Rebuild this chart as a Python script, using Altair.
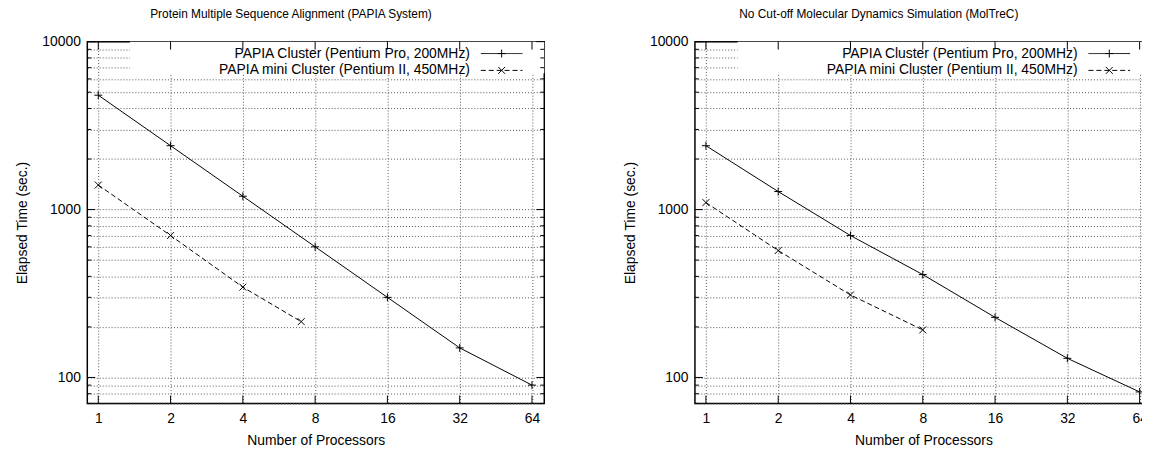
import altair as alt
import pandas as pd

# ---------------- data ----------------
procs = [1, 2, 4, 8, 16, 32, 64]
left_cluster = [4800, 2400, 1200, 600, 300, 150, 90]
left_mini_procs = [1, 2, 4, 7]
left_mini = [1400, 700, 345, 215]
right_cluster = [2400, 1280, 700, 410, 228, 130, 82]
right_mini_procs = [1, 2, 4, 8]
right_mini = [1100, 570, 310, 192]

titles = [
    "Protein Multiple Sequence Alignment (PAPIA System)",
    "No Cut-off Molecular Dynamics Simulation (MolTreC)",
]
series_names = [
    "PAPIA Cluster (Pentium Pro, 200MHz)",
    "PAPIA mini Cluster (Pentium II, 450MHz)",
]
x_title = "Number of Processors"
y_title = "Elapsed Time (sec.)"
x_ticks = [1, 2, 4, 8, 16, 32, 64]
y_major = [100, 1000, 10000]
y_minor = [70, 80, 90, 200, 300, 400, 500, 600, 700, 800, 900,
           2000, 3000, 4000, 5000, 6000, 7000, 8000, 9000]
x_domain = [0.9, 72]
y_domain = [70, 10000]

# ---------------- style ----------------
W, H = 461, 365
FONT = "Liberation Sans"
FS = 14
PLUS = "M-1,0L1,0M0,-1L0,1"
CROSS = "M-1,-1L1,1M-1,1L1,-1"
MAJ, MIN = 8, 4


def panel(title, title_dx, cl_x, cl_y, mn_x, mn_y):
    xs = alt.Scale(type="log", base=2, domain=x_domain, nice=False)
    ys = alt.Scale(type="log", domain=y_domain, nice=False)
    label_test = " || ".join(f"datum.value == {v}" for v in y_major)
    x_axis = alt.Axis(values=x_ticks, grid=True, ticks=False, tickSize=0,
                      domain=False, title=x_title, format="d", labelPadding=8,
                      titlePadding=8, labelOverlap=False, labelFlush=False)
    y_axis = alt.Axis(values=sorted(y_major + y_minor), grid=True, ticks=False,
                      tickSize=0, domain=False, title=y_title,
                      labelExpr=f"({label_test}) ? format(datum.value, 'd') : ''",
                      labelPadding=7, titlePadding=12, labelOverlap=False,
                      labelFlush=False)
    X = alt.X("n:Q", scale=xs, axis=x_axis)
    Y = alt.Y("t:Q", scale=ys, axis=y_axis)

    df_cl = pd.DataFrame({"n": cl_x, "t": cl_y})
    df_mn = pd.DataFrame({"n": mn_x, "t": mn_y})
    one = pd.DataFrame({"k": [0]})

    base_cl = alt.Chart(df_cl)
    base_mn = alt.Chart(df_mn)

    grid_layer = base_cl.mark_point(opacity=0).encode(x=X, y=Y)

    box = alt.Chart(one).mark_rect(color="white").encode(
        x=alt.value(43), x2=alt.value(W), y=alt.value(0), y2=alt.value(32))

    line_cl = base_cl.mark_line(color="black", strokeWidth=1).encode(x=X, y=Y)
    line_mn = base_mn.mark_line(color="black", strokeWidth=1,
                                strokeDash=[5, 3]).encode(x=X, y=Y)
    pt_cl = base_cl.mark_point(shape=PLUS, filled=False, size=64, color="black",
                               strokeWidth=1, opacity=1).encode(x=X, y=Y)
    pt_mn = base_mn.mark_point(shape=CROSS, filled=False, size=49, color="black",
                               strokeWidth=1, opacity=1).encode(x=X, y=Y)

    legend_layers = []
    rows = [12, 29]
    shapes = [PLUS, CROSS]
    dashes = [[1, 0], [5, 3]]
    for i, name in enumerate(series_names):
        d = pd.DataFrame({"label": [name]})
        legend_layers.append(alt.Chart(d).mark_text(
            align="right", baseline="middle", font=FONT, fontSize=FS,
            color="black").encode(text="label:N", x=alt.value(386),
                                  y=alt.value(rows[i])))
        legend_layers.append(alt.Chart(d).mark_rule(
            color="black", strokeWidth=1, strokeDash=dashes[i]).encode(
            x=alt.value(397), x2=alt.value(439), y=alt.value(rows[i])))
        legend_layers.append(alt.Chart(d).mark_point(
            shape=shapes[i], filled=False, size=64 if i == 0 else 49,
            color="black", strokeWidth=1, opacity=1).encode(
            x=alt.value(418), y=alt.value(rows[i])))

    dfx = pd.DataFrame({"n": x_ticks})
    dfy_maj = pd.DataFrame({"t": y_major})
    dfy_min = pd.DataFrame({"t": y_minor})
    tick_style = dict(color="black", strokeWidth=1)
    ticks = [
        alt.Chart(dfx).mark_rule(**tick_style).encode(
            x=X, y=alt.value(H), y2=alt.value(H - MAJ)),
        alt.Chart(dfx).mark_rule(**tick_style).encode(
            x=X, y=alt.value(0), y2=alt.value(MAJ)),
        alt.Chart(dfy_maj).mark_rule(**tick_style).encode(
            y=Y, x=alt.value(0), x2=alt.value(MAJ)),
        alt.Chart(dfy_maj).mark_rule(**tick_style).encode(
            y=Y, x=alt.value(W), x2=alt.value(W - MAJ)),
        alt.Chart(dfy_min).mark_rule(**tick_style).encode(
            y=Y, x=alt.value(0), x2=alt.value(MIN)),
        alt.Chart(dfy_min).mark_rule(**tick_style).encode(
            y=Y, x=alt.value(W), x2=alt.value(W - MIN)),
    ]

    return alt.layer(grid_layer, box, line_cl, line_mn, pt_cl, pt_mn,
                     *legend_layers, *ticks).properties(
        width=W, height=H,
        title=alt.TitleParams(title, font=FONT, fontSize=12,
                              fontWeight="normal", color="black",
                              anchor="middle", offset=14, dx=title_dx))


left = panel(titles[0], -25, procs, left_cluster, left_mini_procs, left_mini)
right = panel(titles[1], -45, procs, right_cluster, right_mini_procs, right_mini)

chart = alt.hconcat(left, right, spacing=77).properties(
    padding={"left": 7, "top": -3, "right": -12, "bottom": 0},
    background="white",
).configure_view(
    stroke="black", strokeWidth=1.5
).configure_axis(
    labelFont=FONT, titleFont=FONT, labelFontSize=FS, titleFontSize=FS,
    labelColor="black", titleColor="black", titleFontWeight="normal",
    gridColor="#555", gridDash=[1, 2], gridWidth=1, gridOpacity=1,
)

chart.save("out.html", embed_options={"renderer": "svg", "actions": False})
